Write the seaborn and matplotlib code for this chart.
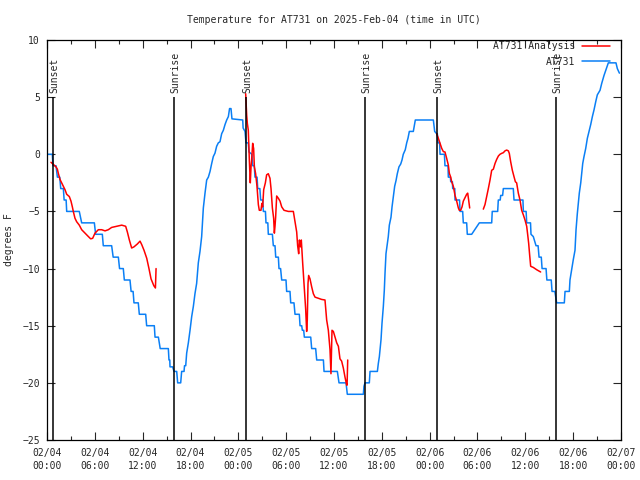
import matplotlib
matplotlib.use("Agg")
import matplotlib.pyplot as plt
import seaborn as sns
import numpy as np

# hours since 02/04 00:00 UTC, temperature in F
obs_hours = [
    0.0, 0.67, 0.75, 1.13, 1.3, 1.6, 1.72, 2.05, 2.15, 2.4, 2.47, 4.05,
    4.35, 5.94, 6.1, 6.94, 7.06, 8.11, 8.3, 8.95, 9.1, 9.57, 9.7, 10.41,
    10.55, 10.8, 10.91, 11.45, 11.58, 12.38, 12.5, 13.46, 13.55, 13.97, 14.2, 15.22,
    15.3, 15.4, 15.43, 15.76, 15.93, 16.27, 16.39, 16.77, 16.89, 17.19, 17.25, 17.4,
    17.52, 17.73, 17.94, 18.15, 18.36, 18.56, 18.77, 18.98, 19.19, 19.4, 19.61, 19.82,
    20.03, 20.24, 20.45, 20.66, 20.86, 21.07, 21.28, 21.49, 21.7, 21.91, 22.12, 22.33,
    22.54, 22.75, 22.9, 23.08, 23.2, 24.55, 24.6, 24.84, 24.96, 25.25, 25.34, 25.7,
    25.8, 26.0, 26.09, 26.35, 26.43, 26.7, 26.8, 27.05, 27.14, 27.4, 27.47, 27.7,
    27.76, 28.27, 28.39, 28.6, 28.69, 29.02, 29.1, 29.3, 29.44, 29.98, 30.06, 30.48,
    30.57, 30.98, 31.11, 31.65, 31.74, 31.95, 32.03, 32.2, 32.28, 33.08, 33.2, 33.7,
    33.83, 34.67, 34.75, 36.42, 36.63, 37.51, 37.67, 39.68, 39.76, 39.89, 40.43, 40.52,
    41.44, 41.56, 41.69, 41.77, 41.9, 42.02, 42.19, 42.31, 42.4, 42.52, 42.69, 42.81,
    42.94, 43.15, 43.28, 43.44, 43.61, 43.78, 43.94, 44.15, 44.37, 44.53, 44.69, 44.94,
    45.12, 45.28, 45.45, 45.95, 46.08, 46.2, 48.46, 48.63, 48.88, 48.96, 49.05, 49.25,
    49.3, 49.85, 49.92, 50.3, 50.34, 50.6, 50.64, 50.85, 50.89, 51.15, 51.18, 51.75,
    51.81, 52.14, 52.22, 52.64, 52.72, 53.27, 54.23, 55.78, 55.85, 56.53, 56.61, 56.85,
    56.91, 57.15, 57.24, 58.49, 58.58, 59.7, 59.75, 60.1, 60.17, 60.65, 60.71, 61.0,
    61.34, 61.6, 61.72, 62.0, 62.1, 62.6, 62.7, 63.25, 63.35, 63.7, 63.93, 64.89,
    64.98, 65.52, 65.6, 65.81, 66.02, 66.23, 66.36, 66.52, 66.77, 66.95, 67.2, 67.36,
    67.57, 67.78, 67.99, 68.2, 68.41, 68.62, 68.83, 69.03, 69.37, 69.58, 69.87, 70.12,
    70.41, 71.37, 71.54, 71.8,
]
obs_temps = [
    0, 0, -1, -1, -2, -2, -3, -3, -4, -4, -5, -5,
    -6, -6, -7, -7, -8, -8, -9, -9, -10, -10, -11, -11,
    -12, -12, -13, -13, -14, -14, -15, -15, -16, -16, -17, -17,
    -18, -18, -18.6, -18.6, -19, -19, -20, -20, -19, -19, -18.5, -18.5,
    -17.4, -16.5, -15.4, -14.2, -13.3, -12.2, -11.3, -9.5, -8.5, -7.2, -4.7, -3.4,
    -2.25, -2, -1.5, -0.8, -0.2, 0.1, 0.7, 1, 1.1, 1.8, 2.1, 2.6,
    3, 3.3, 4, 4, 3.1, 3, 2.3, 2, 1, 1, 0.2, 0,
    -1, -1, -2, -2, -3, -3, -4, -4, -5, -5, -6, -6,
    -7, -7, -8, -8, -9, -9, -10, -10, -11, -11, -12, -12,
    -13, -13, -14, -14, -15, -15, -15.4, -15.4, -16, -16, -17, -17,
    -18, -18, -19, -19, -20, -20, -21, -21, -20.3, -20, -20, -19,
    -19, -18.3, -17.7, -17.1, -16.2, -14.8, -13.3, -11.9, -10.4, -8.7, -7.8, -7.2,
    -6.2, -5.5, -4.6, -3.7, -2.8, -2.3, -1.7, -1.1, -0.85, -0.5, 0, 0.4,
    1, 1.4, 2, 2, 2.5, 3, 3, 2, 1.8, 1.8, 1, 1,
    0, 0, -1, -1, -2, -2, -2.4, -2.4, -3, -3, -4, -4,
    -5, -5, -6, -6, -7, -7, -6, -6, -5, -5, -4, -4,
    -3.6, -3.6, -3, -3, -4, -4, -5, -5, -6, -6, -7, -7.2,
    -8, -8, -9, -9, -10, -10, -11, -11, -12, -12, -13, -13,
    -12, -12, -11, -10.1, -9.2, -8.4, -6.6, -5.2, -3.4, -2.5, -0.8, -0.2,
    0.5, 1.4, 2, 2.6, 3.3, 3.9, 4.6, 5.2, 5.6, 6.2, 6.9, 7.4,
    8, 8, 7.5, 7.1,
]

# analysis series, four pieces with gaps between them
ana1_hours = [
    0.5, 0.88, 1.13, 1.3, 1.42, 1.63, 1.84, 2.05, 2.26, 2.47, 2.8, 3.01,
    3.18, 3.3, 3.51, 3.72, 4.05, 4.35, 4.77, 5.19, 5.48, 5.73, 6.02, 6.44,
    6.86, 7.28, 7.69, 8.11, 8.74, 9.37, 9.87, 10.08, 10.33, 10.62, 10.91, 11.33,
    11.67, 11.88, 12.17, 12.51, 12.79, 13.05, 13.4, 13.6, 13.68,
]
ana1_temps = [
    -0.7, -0.94, -1.1, -1.3, -1.67, -2.2, -2.5, -2.8, -3.1, -3.5, -3.7, -4.1,
    -4.6, -5.0, -5.6, -5.9, -6.2, -6.6, -6.9, -7.2, -7.4, -7.35, -6.9, -6.6,
    -6.6, -6.7, -6.6, -6.4, -6.3, -6.2, -6.3, -6.8, -7.5, -8.2, -8.1, -7.85,
    -7.6, -7.9, -8.4, -9.1, -10.0, -10.9, -11.5, -11.7, -10.0,
]
ana2_hours = [
    24.92, 25.05, 25.13, 25.25, 25.38, 25.5, 25.6, 25.67, 25.8, 25.92, 26.01, 26.17,
    26.34, 26.51, 26.63, 26.84, 26.95, 27.05, 27.18, 27.39, 27.55, 27.76, 27.97, 28.1,
    28.27, 28.43, 28.52, 28.6, 28.68, 28.81, 29.02, 29.23, 29.44, 29.73, 30.27, 30.9,
    31.11, 31.32, 31.44, 31.57, 31.66, 31.8, 31.9, 32.07, 32.2, 32.32, 32.45, 32.57,
    32.65, 32.74, 32.82, 32.99, 33.2, 33.41, 33.62, 34.04, 34.45, 34.87, 35.08, 35.29,
    35.5, 35.62, 35.75, 35.92, 36.13, 36.34, 36.55, 36.75, 36.96, 37.17, 37.38, 37.59,
    37.64, 37.72,
]
ana2_temps = [
    5.3, 3.4, 2.7, 2.1, -0.5, -2.5, -1.0, -0.5, 0.96, 0.5, -1.1, -1.7,
    -2.8, -4.4, -4.9, -4.9, -4.3, -4.6, -3.1, -2.5, -1.8, -1.7, -2.1, -3.0,
    -4.7, -5.6, -6.9, -6.3, -5.5, -3.65, -3.85, -4.1, -4.6, -4.9, -5.0, -5.0,
    -5.9, -6.8, -8.0, -8.7, -7.5, -8.1, -7.5, -9.5, -10.9, -12.2, -13.6, -15.5,
    -14.5, -11.3, -10.6, -10.9, -11.6, -12.2, -12.5, -12.6, -12.7, -12.75, -14.5, -15.4,
    -17.1, -19.2, -15.4, -15.5, -16.0, -16.5, -16.8, -17.9, -18.1, -18.7, -19.5, -20.2,
    -20.2, -18.0,
]
ana3_hours = [
    48.88, 49.09, 49.3, 49.51, 49.72, 49.92, 50.13, 50.34, 50.47, 50.64, 50.76, 50.97,
    51.18, 51.39, 51.6, 51.72, 51.89, 52.06, 52.22, 52.43, 52.64, 52.77, 52.89, 53.02,
]
ana3_temps = [
    1.8, 1.4, 0.96, 0.52, 0.23, 0.2, -0.35, -0.94, -1.67, -2.0, -2.4, -2.8,
    -3.6, -4.1, -4.7, -4.9, -4.9, -4.6, -4.1, -3.8, -3.5, -3.4, -4.0, -4.7,
]
ana4_hours = [
    54.73, 54.94, 55.15, 55.36, 55.57, 55.78, 55.99, 56.2, 56.41, 56.62, 56.82, 57.03,
    57.24, 57.45, 57.66, 57.87, 57.99, 58.16, 58.37, 58.58, 58.75, 58.91, 59.12, 59.33,
    59.54, 59.75, 59.96, 60.17, 60.29, 60.42, 60.54, 60.67, 61.0, 61.42, 61.92,
]
ana4_temps = [
    -4.8, -4.4, -3.7, -3.0, -2.25, -1.4, -1.3, -0.8, -0.44, -0.15, 0.0, 0.08,
    0.14, 0.3, 0.37, 0.3, 0.08, -0.65, -1.4, -1.96, -2.4, -2.5, -3.4, -4.0,
    -4.9, -5.3, -5.75, -6.3, -7.0, -7.8, -8.8, -9.8, -9.9, -10.1, -10.3,
]

sun_hours = [0.79, 15.92, 24.93, 39.94, 48.97, 63.9]
sun_labels = ["Sunset", "Sunrise", "Sunset", "Sunrise", "Sunset", "Sunrise"]

tick_hours = list(range(0, 73, 6))
tick_labels = [
    "02/04\n00:00", "02/04\n06:00", "02/04\n12:00", "02/04\n18:00",
    "02/05\n00:00", "02/05\n06:00", "02/05\n12:00", "02/05\n18:00",
    "02/06\n00:00", "02/06\n06:00", "02/06\n12:00", "02/06\n18:00",
    "02/07\n00:00",
]

sns.set_style("ticks")
plt.rcParams["font.family"] = ["DejaVu Sans Mono"]
plt.rcParams["xtick.direction"] = "in"
plt.rcParams["ytick.direction"] = "in"

fig, ax = plt.subplots(figsize=(6.4, 4.8), dpi=100)
fig.subplots_adjust(left=47 / 640, right=621 / 640, top=1 - 40 / 480, bottom=1 - 440 / 480)

red = "#ff0000"
blue = "#0a7ff5"

sns.lineplot(x=obs_hours, y=obs_temps, color=blue, lw=1.1, sort=False,
             estimator=None, ax=ax, label="AT731")
first = True
for hrs, tmps in [(ana1_hours, ana1_temps), (ana2_hours, ana2_temps),
                  (ana3_hours, ana3_temps), (ana4_hours, ana4_temps)]:
    sns.lineplot(x=hrs, y=tmps, color=red, lw=1.1, sort=False, estimator=None,
                 ax=ax, label="AT731 Analysis" if first else None)
    first = False

# sunrise / sunset markers
for h, lab in zip(sun_hours, sun_labels):
    ax.vlines(h, -25, 5, color="black", lw=1.1, zorder=3)
    ax.text(h + 0.15, 5.4, lab, rotation=90, ha="center", va="bottom", fontsize=7)

ax.set_xlim(0, 72)
ax.set_ylim(-25, 10)
ax.set_xticks(tick_hours)
ax.set_xticklabels(tick_labels, fontsize=7, linespacing=1.35)
ax.set_xticks(range(3, 72, 6), minor=True)
ax.set_yticks(range(-25, 11, 5))
ax.tick_params(axis="y", labelsize=7, pad=5)
ax.tick_params(axis="x", pad=6)
ax.tick_params(which="major", length=6, width=0.8, top=True, right=True)
ax.tick_params(which="minor", length=3, width=0.8, top=True, right=True)
for s in ax.spines.values():
    s.set_linewidth(0.9)
    s.set_color("black")

ax.set_xlabel("")
ax.set_ylabel("degrees F", fontsize=7)
ax.yaxis.set_label_coords(-0.0575, 0.5)
ax.set_title("Temperature for AT731 on 2025-Feb-04 (time in UTC)", fontsize=7, pad=12)

handles, labels = ax.get_legend_handles_labels()
order = [labels.index("AT731 Analysis"), labels.index("AT731")]
ax.legend([handles[i] for i in order], [labels[i] for i in order],
          loc="upper right", bbox_to_anchor=(0.981, 0.997), frameon=False,
          markerfirst=False, fontsize=7, handlelength=2.9, handletextpad=0.7,
          labelspacing=0.55, borderpad=0, borderaxespad=0)

fig.savefig("out.png", dpi=100)
